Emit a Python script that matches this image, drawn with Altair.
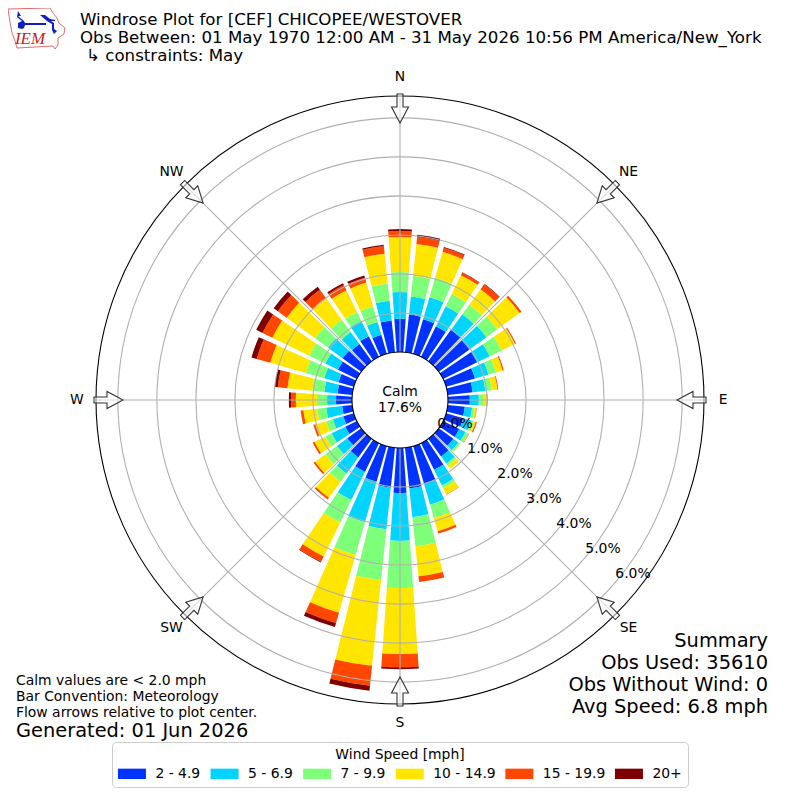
import altair as alt
import pandas as pd

DIRS = list(range(0, 360, 10))
BANDS = ["2 - 4.9", "5 - 6.9", "7 - 9.9", "10 - 14.9", "15 - 19.9", "20+"]
COLORS = ["#0033ff", "#00d4ff", "#7dff7a", "#ffe600", "#ff4700", "#7f0000"]

# cumulative frequency [%] at the top of each speed band, per direction
TOP_2 = [.85,.97,.92,.87,1.0,.97,.97,.77,.64,.56,.44,.46,.46,.46,.56,.76,1.0,1.05,1.15,1.03,.95,.82,.59,.44,.33,.28,.26,.41,.38,.41,.54,.59,.54,.59,.51,.82]
TOP_5 = [1.54,1.44,1.51,1.44,1.49,1.51,1.33,1.13,.97,.79,.63,.67,.64,.62,.79,1.21,1.56,1.79,2.38,2.10,2.03,1.62,1.10,.77,.72,.56,.67,.64,.72,.79,.90,1.05,.92,1.03,.85,1.33]
TOP_7 = [2.05,1.97,2.03,1.79,1.79,1.85,1.67,1.33,1.13,.92,.69,.74,.72,.67,.85,1.28,1.92,2.54,3.59,3.41,2.90,2.26,1.36,1.13,.90,.74,.90,.90,1.03,1.28,1.36,1.46,1.31,1.28,1.27,1.77]
TOP_10 = [2.95,2.79,2.72,2.33,2.28,2.56,2.05,1.51,1.28,1.0,.74,.79,.73,.68,.95,1.46,2.27,3.31,5.28,5.62,4.44,3.23,1.87,1.46,1.21,1.03,1.26,1.44,1.67,2.23,2.41,2.36,2.0,1.90,1.90,2.54]
TOP_15 = [3.10,2.97,2.83,2.40,2.44,2.62,2.08,1.54,1.30,1.0,.75,.82,.74,.68,.95,1.47,2.33,3.46,5.62,6.13,4.72,3.38,1.92,1.51,1.26,1.08,1.33,1.56,1.92,2.59,2.69,2.64,2.26,2.05,2.03,2.74]
TOP_20 = [3.15,3.03,2.85,2.41,2.45,2.62,2.08,1.54,1.30,1.01,.75,.82,.74,.68,.95,1.47,2.33,3.46,5.67,6.26,4.82,3.40,1.92,1.51,1.26,1.08,1.33,1.62,2.0,2.73,2.87,2.77,2.36,2.10,2.09,2.77]
TOPS = [TOP_2, TOP_5, TOP_7, TOP_10, TOP_15, TOP_20]

GRID = [1, 2, 3, 4, 5, 6]
R_MAX = 6.56
COMPASS = ["N", "NE", "E", "SE", "S", "SW", "W", "NW"]
COMPASS_DIRS = [0, 45, 90, 135, 180, 225, 270, 315]
PCT_LABELS = ["0.0%", "1.0%", "2.0%", "3.0%", "4.0%", "5.0%", "6.0%"]

HALF_WIDTH = 4
rows = []
for b, band in enumerate(BANDS):
    for i, d in enumerate(DIRS):
        rows.append({
            "band": band,
            "start": d - HALF_WIDTH,
            "end": d + HALF_WIDTH,
            "inner": 0 if b == 0 else TOPS[b - 1][i],
            "outer": TOPS[b][i],
        })
bars_df = pd.DataFrame(rows)

TH = alt.Scale(domain=[0, 360], range=[0, 6.283185307])
RD = alt.Scale(domain=[0, R_MAX], range=[48, 304])

bars = alt.Chart(bars_df).mark_arc(stroke=None).encode(
    theta=alt.Theta("start:Q", scale=TH, stack=None),
    theta2="end:Q",
    radius=alt.Radius("inner:Q", scale=RD),
    radius2="outer:Q",
    color=alt.Color("band:N", scale=alt.Scale(domain=BANDS, range=COLORS), legend=alt.Legend(
        orient="none", legendX=104, legendY=734, columns=6, gridAlign="none",
        title="Wind Speed [mph]", titleAnchor="middle", titleFont="DejaVu Sans",
        titleFontSize=13.9, titleFontWeight="normal", titleColor="#000", titlePadding=5,
        labelFont="DejaVu Sans", labelFontSize=13.9, labelColor="#000", labelOffset=16.5,
        symbolType="M-2.8,-1.04H2.8V1.04H-2.8Z", symbolSize=100, symbolOffset=7,
        symbolStrokeWidth=0, symbolOpacity=1,
        columnPadding=8.6, padding=6, fillColor="#ffffff", strokeColor="#cccccc",
        cornerRadius=4)),
)


def ring(values, color, width=1.1, fill=None):
    kw = {"fill": fill} if fill else {"fillOpacity": 0}
    return alt.Chart(pd.DataFrame({"a": [0] * len(values), "b": [360] * len(values), "p": values})).mark_arc(
        stroke=color, strokeWidth=width, **kw
    ).encode(
        theta=alt.Theta("a:Q", scale=TH, stack=None), theta2="b:Q",
        radius=alt.Radius("p:Q", scale=RD), radius2="p:Q",
    )


grid_rings = ring(GRID, "#b0b0b0")
spokes = alt.Chart(pd.DataFrame({"d": COMPASS_DIRS, "r0": [0] * 8, "r1": [R_MAX] * 8})).mark_arc(
    stroke="#b0b0b0", strokeWidth=1.1, fillOpacity=0
).encode(
    theta=alt.Theta("d:Q", scale=TH, stack=None), theta2="d:Q",
    radius=alt.Radius("r0:Q", scale=RD), radius2="r1:Q",
)
calm_ring = ring([0], "#000000", 1.1, "#ffffff")
outer_ring = ring([R_MAX], "#000000", 1.1)

ARROW = "M-3,-2L3,-2L3,11L8.5,11L0,27L-8.5,11L-3,11Z"
arrow_df = pd.DataFrame({
    "d": COMPASS_DIRS,
    "px": [392, 608.0, 696, 608.0, 392, 176.0, 88, 176.0],
    "py": [88, 176.0, 392, 608.0, 696, 608.0, 392, 176.0],
})
arrows = alt.Chart(arrow_df).mark_point(
    shape=ARROW, size=4, filled=True, fill="#ffffff", fillOpacity=0.55, stroke="#333333",
    strokeWidth=1.1, opacity=1
).encode(
    x=alt.X("px:Q", scale=None, axis=None),
    y=alt.Y("py:Q", scale=None, axis=None),
    angle=alt.Angle("d:Q", scale=None),
)

compass_text = alt.Chart(pd.DataFrame({"t": COMPASS, "d": COMPASS_DIRS, "r": [7.05] * 8})).mark_text(
    font="DejaVu Sans", fontSize=13.9, color="#000", baseline="middle", align="center"
).encode(
    theta=alt.Theta("d:Q", scale=TH, stack=None),
    radius=alt.Radius("r:Q", scale=RD),
    text="t:N",
)


def texts(labels, xs, ys, size, align="left"):
    df = pd.DataFrame({"t": labels, "px": [v - 8 for v in xs], "py": [v - 7 for v in ys]})
    return alt.Chart(df).mark_text(
        font="DejaVu Sans", fontSize=size, color="#000", align=align, baseline="middle"
    ).encode(
        x=alt.X("px:Q", scale=None, axis=None),
        y=alt.Y("py:Q", scale=None, axis=None),
        text="t:N",
    )


pct_text = texts(PCT_LABELS, [455, 485, 515, 544, 574, 603, 633], [423, 448, 473, 498, 523, 548, 573], 13.9, "center")
calm_text = texts(["Calm", "17.6%"], [400, 400], [391, 407], 13.9, "center")
title_text = texts(
    ["Windrose Plot for [CEF] CHICOPEE/WESTOVER",
     "Obs Between: 01 May 1970 12:00 AM - 31 May 2026 10:56 PM America/New_York"],
    [80, 80], [19, 36.5], 16.67)
constraint_text = texts(["↳ constraints: May"], [86], [55], 16.67)
notes_text = texts(
    ["Calm values are < 2.0 mph", "Bar Convention: Meteorology", "Flow arrows relative to plot center."],
    [16, 16, 16], [680, 696, 712], 13.9)
gen_text = texts(["Generated: 01 Jun 2026"], [16], [730], 19.4)
summary_text = texts(
    ["Summary", "Obs Used: 35610", "Obs Without Wind: 0", "Avg Speed: 6.8 mph"],
    [768, 768, 768, 768], [640, 662, 684, 706], 19.4, "right")

# small IEM logo
IOWA = ("M0,1L42,0L45,5L49,10L51,15L57,20L56,26L50,30L50,37L47,41L45,38L9,40L7,33L4,25L2,14Z")
logo_outline = alt.Chart(pd.DataFrame({"px": [0], "py": [0]})).mark_point(
    shape=IOWA, size=4, stroke="#e05a5a", strokeWidth=0.9, fillOpacity=0, opacity=1
).encode(x=alt.X("px:Q", scale=None, axis=None), y=alt.Y("py:Q", scale=None, axis=None))
DAM = ("M10,3L13,8L10,8L16,13L17,15L38,15L38,17L17,17L16,20L14,21L10,20L10,15L14,13L9,9ZM"
       "32,7L37,7L42,11L47,12L47,13L43,13L46,15L46,21L49,23L46,26L44,22L44,16L39,13Z")
logo_mark = alt.Chart(pd.DataFrame({"px": [0], "py": [0]})).mark_point(
    shape=DAM, size=4, filled=True, fill="#1020c0", opacity=1, strokeWidth=0
).encode(x=alt.X("px:Q", scale=None, axis=None), y=alt.Y("py:Q", scale=None, axis=None))
logo_text = alt.Chart(pd.DataFrame({"t": ["IEM"], "px": [22], "py": [30.5]})).mark_text(
    font="Liberation Serif", fontStyle="italic", fontSize=17, color="#d02020", align="center", baseline="middle"
).encode(x=alt.X("px:Q", scale=None, axis=None), y=alt.Y("py:Q", scale=None, axis=None), text="t:N")

chart = alt.layer(
    bars, grid_rings, spokes, calm_ring, outer_ring, arrows, compass_text,
    pct_text, calm_text, title_text, constraint_text, notes_text, gen_text, summary_text,
    logo_outline, logo_mark, logo_text,
).properties(
    width=784, height=784, padding=0, autosize=alt.AutoSizeParams(type="none"),
).configure_view(stroke=None)

chart.save("out.html", embed_options={"renderer": "svg", "actions": False})
